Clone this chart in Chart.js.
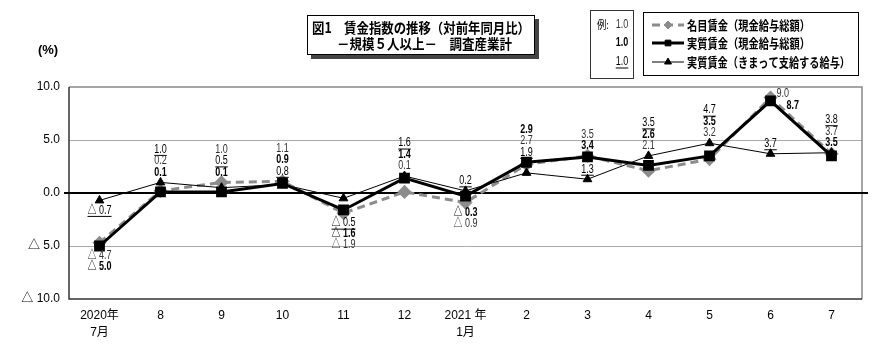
<!DOCTYPE html>
<html>
<head>
<meta charset="utf-8">
<script src="https://cdn.jsdelivr.net/npm/chart.js@4.4.1/dist/chart.umd.min.js"></script>
<style>
  html, body { margin: 0; padding: 0; background: #fff; }
</style>
</head>
<body>
<canvas id="myChart" width="890" height="353"></canvas>
<script>
// 月ラベル
const months = [["2020年", "7月"], "8", "9", "10", "11", "12", ["2021 年", "1月"], "2", "3", "4", "5", "6", "7"];

// 対前年同月比 (%)
const nominal = [-4.7, 0.2, 1.0, 1.1, -1.9, 0.1, -0.9, 2.7, 3.5, 2.1, 3.2, 9.0, 3.7];
const real = [-5.0, 0.1, 0.1, 0.9, -1.6, 1.4, -0.3, 2.9, 3.4, 2.6, 3.5, 8.7, 3.5];
const scheduled = [-0.7, 1.0, 0.5, 0.8, -0.5, 1.6, 0.2, 1.9, 1.3, 3.5, 4.7, 3.7, 3.8];

const seriesNames = ["名目賃金（現金給与総額）", "実質賃金（現金給与総額）", "実質賃金（きまって支給する給与）"];
const titleLines = ["図1　賃金指数の推移（対前年同月比）", "－規模５人以上－　調査産業計"];

const yMin = -10;
const yMax = 10;
const yStep = 5;

// ラベルの並び (n:名目, r:実質, s:きまって)
const labelLayout = [
  [["down", "s"], ["down", "n", "r"]],
  [["up", "s", "n", "r"]],
  [["up", "n", "s", "r"]],
  [["up", "n", "r", "s"]],
  [["down", "s", "r", "n"]],
  [["up", "s", "r", "n"]],
  [["up", "s"], ["down", "r", "n"]],
  [["up", "r", "n", "s"]],
  [["up", "n", "r"], ["up", "s"]],
  [["up", "s", "r", "n"]],
  [["up", "s", "r", "n"]],
  [["right", "n", "r"], ["up", "s"]],
  [["up", "s", "n", "r"]],
];

const CJK = "'Noto Sans CJK JP', sans-serif";
const NUM = "'Liberation Sans', 'Noto Sans CJK JP', sans-serif";

const fmt = (v) => (v < 0 ? "△ " + Math.abs(v).toFixed(1) : v.toFixed(1));

const seriesByKey = { n: nominal, r: real, s: scheduled };
const labelStyle = {
  n: { font: "12px " + NUM, color: "#333", underline: false },
  r: { font: "bold 12px " + NUM, color: "#000", underline: false },
  s: { font: "12px " + NUM, color: "#000", underline: true },
};

function narrowText(ctx, text, x, y, sx, align) {
  ctx.save();
  ctx.translate(x, y);
  ctx.scale(sx, 1);
  ctx.textAlign = align || "center";
  ctx.fillText(text, 0, 0);
  ctx.restore();
}

function fitText(ctx, text, x, y, w) {
  const m = ctx.measureText(text).width;
  narrowText(ctx, text, x, y, w / m, "left");
}

function drawValue(ctx, key, text, x, y, align) {
  const st = labelStyle[key];
  ctx.font = st.font;
  ctx.fillStyle = st.color;
  ctx.textBaseline = "middle";
  narrowText(ctx, text, x, y, 0.75, align);
  if (st.underline) {
    const w = ctx.measureText(text).width * 0.75;
    const x0 = align === "left" ? x : x - w / 2;
    ctx.strokeStyle = st.color;
    ctx.lineWidth = 1;
    ctx.beginPath();
    ctx.moveTo(x0, y + 6);
    ctx.lineTo(x0 + w, y + 6);
    ctx.stroke();
  }
}

// 枠線と0の線
const framePlugin = {
  id: "frame",
  beforeDatasetsDraw(chart) {
    const { ctx, chartArea: a, scales } = chart;
    ctx.save();
    ctx.lineWidth = 1.5;
    ctx.strokeStyle = "#888";
    ctx.beginPath();
    ctx.moveTo(a.left, a.top);
    ctx.lineTo(a.right, a.top);
    ctx.lineTo(a.right, a.bottom);
    ctx.stroke();
    ctx.strokeStyle = "#333";
    ctx.beginPath();
    ctx.moveTo(a.left, a.top);
    ctx.lineTo(a.left, a.bottom);
    ctx.lineTo(a.right, a.bottom);
    ctx.stroke();
    const y0 = scales.y.getPixelForValue(0);
    ctx.strokeStyle = "#000";
    ctx.lineWidth = 2;
    ctx.beginPath();
    ctx.moveTo(a.left - 5, y0);
    ctx.lineTo(a.right + 6, y0);
    ctx.stroke();
    ctx.restore();
  },
};

// 数値ラベル
const valuePlugin = {
  id: "values",
  afterDatasetsDraw(chart) {
    const { ctx, scales } = chart;
    ctx.save();
    labelLayout.forEach((groups, i) => {
      const px = scales.x.getPixelForValue(i);
      groups.forEach((g) => {
        const dir = g[0];
        const keys = g.slice(1);
        const ys = keys.map((k) => scales.y.getPixelForValue(seriesByKey[k][i]));
        if (dir === "up") {
          const anchor = Math.min(...ys) - 10;
          keys.forEach((k, j) => {
            const y = anchor - (keys.length - 1 - j) * 11.5;
            drawValue(ctx, k, fmt(seriesByKey[k][i]), px, y);
          });
        } else if (dir === "down") {
          const anchor = Math.max(...ys) + 10;
          keys.forEach((k, j) => {
            drawValue(ctx, k, fmt(seriesByKey[k][i]), px, anchor + j * 11);
          });
        } else {
          const anchor = Math.min(...ys) - 4;
          keys.forEach((k, j) => {
            drawValue(ctx, k, fmt(seriesByKey[k][i]), px + 6 + j * 10, anchor + j * 12, "left");
          });
        }
      });
    });
    ctx.restore();
  },
};

// タイトル・凡例
const headerPlugin = {
  id: "header",
  afterDraw(chart) {
    const ctx = chart.ctx;
    ctx.save();
    ctx.textBaseline = "middle";

    // (%)
    ctx.fillStyle = "#000";
    ctx.font = "bold 13px " + NUM;
    ctx.textAlign = "center";
    ctx.fillText("(%)", 48, 50);

    // タイトル枠
    ctx.fillStyle = "#444";
    ctx.fillRect(311, 19, 228, 40);
    ctx.fillStyle = "#fff";
    ctx.fillRect(307, 15, 228, 40);
    ctx.strokeStyle = "#000";
    ctx.lineWidth = 1;
    ctx.strokeRect(307.5, 15.5, 227, 39);
    ctx.fillStyle = "#000";
    ctx.font = "bold 14px " + CJK;
    fitText(ctx, titleLines[0], 312, 28, 218);
    fitText(ctx, titleLines[1], 337, 44, 175);

    // 例
    ctx.strokeStyle = "#333";
    ctx.strokeRect(590.5, 10.5, 43, 68);
    ctx.font = "11px " + CJK;
    ctx.fillStyle = "#000";
    narrowText(ctx, "例:", 597, 25, 0.85, "left");
    const rowY = [25, 43, 62];
    drawValue(ctx, "n", "1.0", 622, rowY[0]);
    drawValue(ctx, "r", "1.0", 622, rowY[1]);
    drawValue(ctx, "s", "1.0", 622, rowY[2]);

    // 凡例 (名目, 実質, きまって)
    ctx.strokeStyle = "#000";
    ctx.lineWidth = 1;
    ctx.strokeRect(643.5, 12.5, 215, 63);
    const order = [2, 0, 1];
    const widths = [123, 123, 163];
    order.forEach((di, j) => {
      const ds = chart.data.datasets[di];
      const y = rowY[j];
      ctx.save();
      ctx.strokeStyle = ds.borderColor;
      ctx.fillStyle = ds.backgroundColor;
      ctx.lineWidth = ds.borderWidth;
      ctx.setLineDash(ds.borderDash || []);
      ctx.beginPath();
      ctx.moveTo(652, y);
      ctx.lineTo(684, y);
      ctx.stroke();
      ctx.setLineDash([]);
      ctx.lineWidth = 1;
      Chart.helpers.drawPoint(ctx, { pointStyle: ds.pointStyle, radius: 4, rotation: 0, borderWidth: 1 }, 668, y);
      ctx.restore();
      ctx.fillStyle = "#000";
      ctx.font = "bold 13px " + CJK;
      fitText(ctx, ds.label, 687, y, widths[j]);
    });
    ctx.restore();
  },
};

const dati = {
  labels: months,
  datasets: [
    {
      label: seriesNames[1],
      data: real,
      borderColor: "#000",
      backgroundColor: "#000",
      borderWidth: 3,
      pointStyle: "rect",
      pointRadius: 5.5,
      order: 0,
    },
    {
      label: seriesNames[2],
      data: scheduled,
      borderColor: "#000",
      backgroundColor: "#000",
      borderWidth: 1,
      pointStyle: "triangle",
      pointRadius: 5,
      order: 1,
    },
    {
      label: seriesNames[0],
      data: nominal,
      borderColor: "#8c8c8c",
      backgroundColor: "#8c8c8c",
      borderWidth: 3,
      borderDash: [8, 5],
      pointStyle: "rectRot",
      pointRadius: 5,
      order: 2,
    },
  ],
};

const config = {
  type: "line",
  data: dati,
  options: {
    responsive: false,
    animation: false,
    devicePixelRatio: 1,
    layout: { padding: { top: 87, right: 28, left: 0, bottom: 0 } },
    elements: { line: { tension: 0 }, point: { borderWidth: 1 } },
    plugins: {
      legend: { display: false },
      tooltip: { enabled: false },
      title: { display: false },
    },
    scales: {
      x: {
        offset: true,
        grid: { display: false, drawTicks: false },
        border: { display: false },
        ticks: {
          color: "#000",
          autoSkip: false,
          maxRotation: 0,
          padding: 9,
          font: { family: NUM, size: 12, lineHeight: 1.35 },
        },
        afterFit(scale) {
          scale.height = 54;
        },
      },
      y: {
        min: yMin,
        max: yMax,
        grid: {
          drawTicks: false,
          color: (c) => (c.tick && Math.abs(c.tick.value) === yStep ? "#aaa" : "rgba(0,0,0,0)"),
        },
        border: { display: false },
        ticks: {
          stepSize: yStep,
          color: "#000",
          padding: 9,
          font: { family: NUM, size: 12 },
          callback: (v) => fmt(v),
        },
        afterFit(scale) {
          scale.width = 69;
        },
      },
    },
  },
  plugins: [framePlugin, valuePlugin, headerPlugin],
};

const myChart = new Chart(document.getElementById("myChart").getContext("2d"), config);
</script>
</body>
</html>
